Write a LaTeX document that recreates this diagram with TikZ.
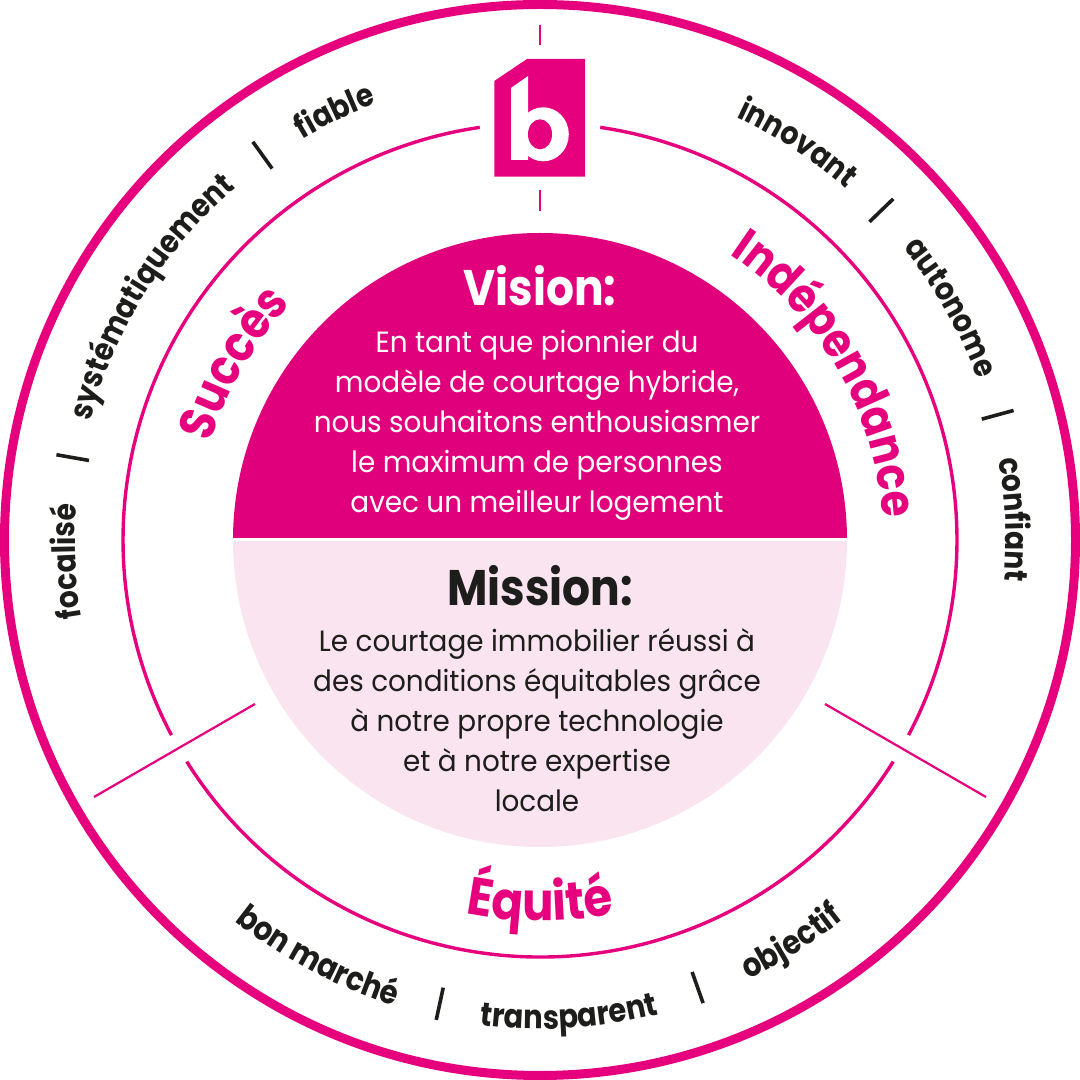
\documentclass[tikz,border=0pt]{standalone}
\usepackage{fontspec}
\usetikzlibrary{decorations.text}
\setmainfont{Poppins}[FakeStretch=0.95]
\newfontfamily\kwfont{Poppins}[UprightFont=* Bold, FakeStretch=0.88]
\definecolor{bpink}{HTML}{E6007E}
\definecolor{bdisc}{HTML}{E0007C}
\definecolor{blight}{HTML}{F9E4EF}
\definecolor{bink}{HTML}{1D1D1B}
\newcommand{\kw}{\kwfont\fontsize{32}{32}\selectfont\color{bink}}
\newcommand{\kwB}{\kwfont\fontsize{33}{33}\selectfont\color{bink}}
\newcommand{\pkA}{\kwfont\fontsize{48}{48}\selectfont\color{bpink}}
\newcommand{\pkB}{\kwfont\fontsize{50}{50}\selectfont\color{bpink}}
\newcommand{\pkC}{\kwfont\fontsize{53}{53}\selectfont\color{bpink}}
% #1 mid angle clockwise from top, #2 radius, #3 format, #4 text
\newcommand{\wordcw}[4]{%
  \path[decorate,decoration={text along path,text align=center,text={|#3|#4}}]
    (540,540) ++({90-(#1)+40}:#2) arc[start angle={90-(#1)+40},end angle={90-(#1)-40},radius=#2];}
\newcommand{\wordccw}[4]{%
  \path[decorate,decoration={text along path,text align=center,text={|#3|#4}}]
    (540,540) ++({90-(#1)-40}:#2) arc[start angle={90-(#1)-40},end angle={90-(#1)+40},radius=#2];}
\newcommand{\sepmark}[1]{%
  \draw[sepline] (540,540) ++({90-(#1)}:458) -- ++({90-(#1)}:33);}
\tikzset{
  ringouter/.style={draw=bpink,line width=9pt},
  ringinner/.style={draw=bpink,line width=3.4pt},
  thinline/.style={draw=bpink,line width=2.2pt},
  sepline/.style={draw=bink,line width=3.6pt},
  bodytext/.style={align=center,font=\fontsize{29.3}{40}\selectfont,inner sep=0pt},
  headtext/.style={font=\kwfont\fontsize{50}{50}\selectfont,inner sep=0pt},
}
\begin{document}
\begin{tikzpicture}[x=1pt,y=1pt]
\useasboundingbox (0,0) rectangle (1080,1080);
\fill[white] (0,0) rectangle (1080,1080);
% rings
\draw[ringouter] (540,540) circle[radius=535.5];
\draw[ringinner] (540,540) ++(98.3:417) arc[start angle=98.3,end angle=207.9,radius=417];
\draw[ringinner] (540,540) ++(212.1:417) arc[start angle=212.1,end angle=327.9,radius=417];
\draw[ringinner] (540,540) ++(332.1:417) arc[start angle=332.1,end angle=441.7,radius=417];
% ticks and dividers
\coordinate (t1) at (540,1055); \coordinate (t2) at (540,1035);
\coordinate (t3) at (540,890);  \coordinate (t4) at (540,869);
\coordinate (dl1) at (94,283);  \coordinate (dl2) at (255,376);
\coordinate (dr1) at (986,283); \coordinate (dr2) at (825,376);
\draw[thinline] (t1) -- (t2);
\draw[thinline] (t3) -- (t4);
\draw[thinline] (dl1) -- (dl2);
\draw[thinline] (dr1) -- (dr2);
% centre disc
\begin{scope}
\clip (200,200) rectangle (880,538);
\fill[blight] (540,540) circle[radius=307];
\end{scope}
\begin{scope}
\clip (200,542.3) rectangle (880,880);
\fill[bdisc] (540,540) circle[radius=307];
\end{scope}
% logo
\fill[bpink] (494.3,999) -- (527,1021) -- (585,1021) -- (585,903.3) -- (494.3,903.3) -- cycle;
\fill[white] (511,992) -- (528,1004) -- (528,920) -- (511,920) -- cycle;
\fill[white] (543.3,945.7) ellipse[x radius=25.5,y radius=27];
\fill[bpink] (540,945.7) ellipse[x radius=12,y radius=15];
% centre text
\node[headtext,text=white] (vision) at (540,794) {Vision:};
\node[bodytext,text=white] (visionbody) at (537,655) {En tant que pionnier du\\modèle de courtage hybride,\\nous souhaitons enthousiasmer\\le maximum de personnes\\avec un meilleur logement};
\node[headtext,text=bink] (mission) at (540,494) {Mission:};
\node[bodytext,text=bink] (missionbody) at (537,360) {Le courtage immobilier réussi à\\des conditions équitables grâce\\à notre propre technologie\\et à notre expertise\\locale};
% pink labels
\wordcw{60}{343}{\pkA}{Indépendance}
\wordcw{-60}{343}{\pkB}{Succès}
\wordccw{180}{381}{\pkC}{Équité}
% keywords
\wordcw{33}{466}{\kw}{innovant}
\wordcw{60.5}{466}{\kw}{autonome}
\wordcw{87.5}{466}{\kw}{confiant}
\wordcw{-92.6}{465}{\kw}{focalisé}
\wordcw{-58}{465}{\kw}{systématiquement}
\wordcw{-25.6}{466}{\kw}{fiable}
\wordccw{208}{488}{\kwB}{bon marché}
\wordccw{176.5}{489}{\kwB}{transparent}
\wordccw{148}{486}{\kwB}{objectif}
% separators
\sepmark{46}
\sepmark{74.7}
\sepmark{160.6}
\sepmark{192.2}
\sepmark{280}
\sepmark{-35.8}
\end{tikzpicture}
\end{document}
